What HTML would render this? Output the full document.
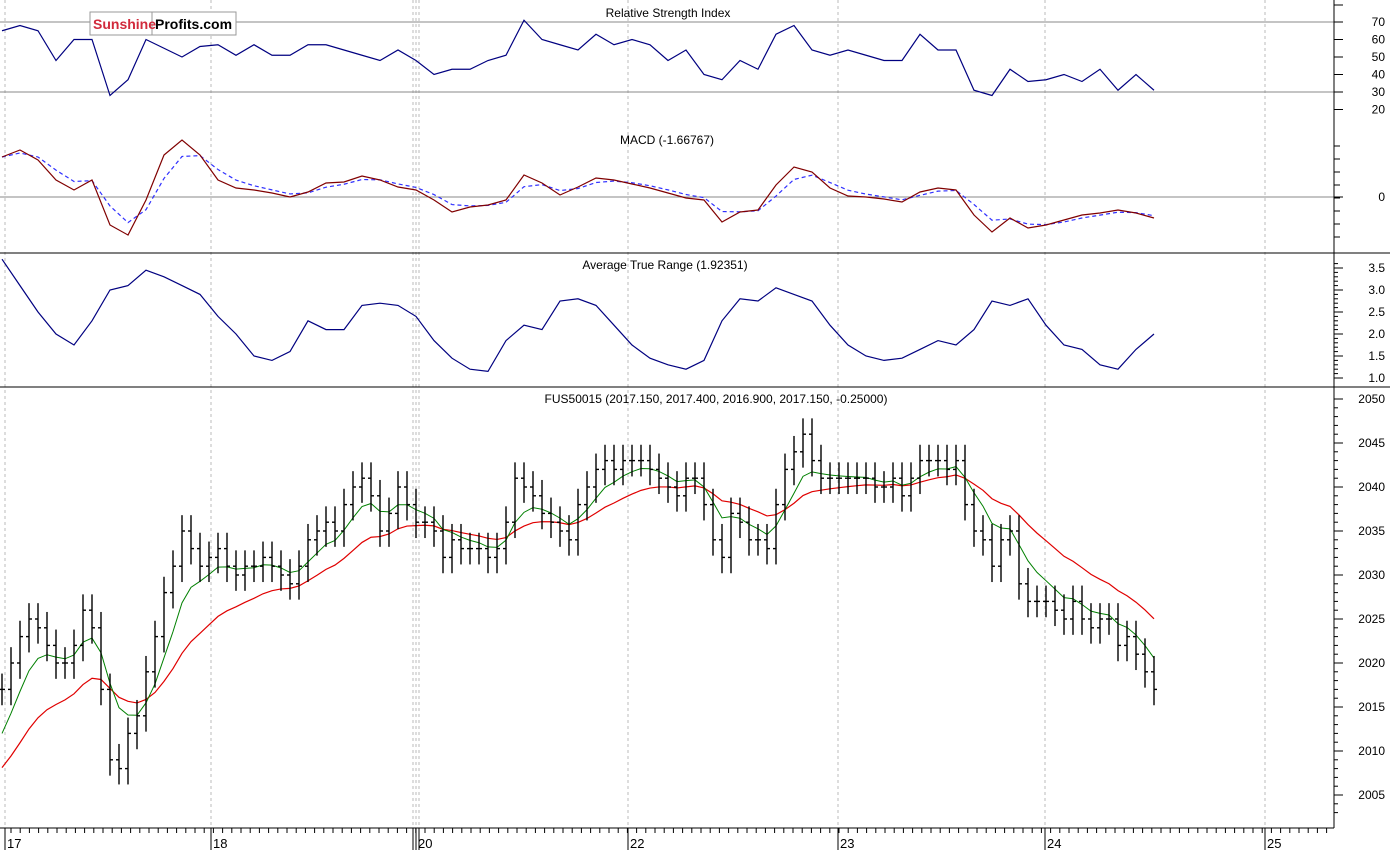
<!DOCTYPE html>
<html><head><meta charset="utf-8"><style>
html,body{margin:0;padding:0;background:#fff;}
svg{display:block;font-family:"Liberation Sans",Arial,sans-serif;}
</style></head><body>
<svg id="chart" width="1390" height="850" viewBox="0 0 1390 850" xmlns="http://www.w3.org/2000/svg">
<rect x="0" y="0" width="1390" height="850" fill="#fff"/>
<g id="grid"></g>
<g id="marks"></g>
<g id="axes"></g>
<g>
<rect x="90" y="12" width="146" height="23" fill="#fff" stroke="#999"/>
<line x1="152" y1="12" x2="152" y2="35" stroke="#999"/>
<text x="93" y="29" font-size="14" font-weight="bold" fill="#d12a3c">Sunshine</text>
<text x="155" y="29" font-size="14" font-weight="bold" fill="#000">Profits.com</text>
</g>
</svg>
<script>
// ---- data ----
const dayLabels = ["17","18","20","22","23","24","25"];
const closes = [2017,2020,2023,2025,2024,2022,2020,2020,2022,2026,2024,2017,2009,2008,2012,2014,2019,2023,2028,2031,2035,2033,2031,2032,2033,2031,2030,2031,2031,2032,2031,2030,2029,2031,2034,2035,2036,2035,2038,2040,2041,2039,2035,2037,2040,2038,2036,2036,2035,2032,2034,2033,2033,2033,2032,2033,2036,2041,2040,2039,2037,2036,2035,2034,2038,2040,2042,2043,2042,2043,2043,2043,2042,2041,2040,2039,2041,2041,2038,2034,2032,2037,2036,2034,2034,2033,2038,2042,2044,2046,2043,2041,2041,2041,2041,2041,2041,2040,2040,2041,2039,2041,2043,2043,2043,2042,2043,2038,2035,2034,2031,2034,2035,2029,2027,2027,2027,2026,2025,2027,2025,2024,2025,2025,2022,2023,2021,2019,2017];
const rsiValues = [65,68,65,48,60,60,28,37,60,55,50,56,57,51,57,51,51,57,57,54,51,48,54,48,40,43,43,48,51,71,60,57,54,63,57,60,57,48,54,40,37,48,43,63,68,54,51,54,51,48,48,63,54,54,31,28,43,36,37,40,36,43,31,40,31];
const macdValues = [4.0,4.7,3.7,1.7,0.7,1.7,-2.8,-3.8,-0.3,4.2,5.7,4.2,1.7,0.9,0.7,0.4,0,0.5,1.4,1.5,2.1,1.7,1.0,0.7,-0.3,-1.5,-1.0,-0.8,-0.3,2.2,1.4,0.2,1.0,1.9,1.7,1.3,0.9,0.4,-0.1,-0.3,-2.5,-1.5,-1.3,1.2,3.0,2.5,0.9,0.1,0,-0.2,-0.5,0.5,0.9,0.7,-1.8,-3.5,-2.1,-3.1,-2.8,-2.3,-1.8,-1.6,-1.3,-1.6,-2.1];
const atrValues = [3.7,3.1,2.5,2.0,1.75,2.3,3.0,3.1,3.45,3.3,3.1,2.9,2.4,2.0,1.5,1.4,1.6,2.3,2.1,2.1,2.65,2.7,2.65,2.4,1.85,1.45,1.2,1.15,1.85,2.2,2.1,2.75,2.8,2.65,2.2,1.75,1.45,1.3,1.2,1.4,2.3,2.8,2.75,3.05,2.9,2.75,2.2,1.75,1.5,1.4,1.45,1.65,1.85,1.75,2.1,2.75,2.65,2.8,2.2,1.75,1.65,1.3,1.2,1.65,2.0];
const priceTicks = [2050,2045,2040,2035,2030,2025,2020,2015,2010,2005];
const rsiTicks = [70,60,50,40,30,20];
const atrTicks = [3.5,3.0,2.5,2.0,1.5,1.0];

// ---- scales ----
const NS='http://www.w3.org/2000/svg';
const barX = i => 2 + i*9;
const indX = i => 2 + i*18;
const priceY = v => 399 + (2050 - v)*8.8;
const rsiY = v => 22 + (70 - v)*1.75;
const macdY = v => 197 - v*10;
const atrY = v => 378 - (v - 1)*44;
const dayX = [5,211,416,628,838,1045,1265];

function mk(tag, attrs, parent){const e=document.createElementNS(NS,tag);for(const k in attrs)e.setAttribute(k,attrs[k]);parent.appendChild(e);return e;}
const grid=document.getElementById('grid'), marks=document.getElementById('marks'), axes=document.getElementById('axes');

[5,211,413,416,419,628,838,1045,1265].forEach(x=>{
  const l=mk('line',{x1:x,y1:0,x2:x,y2:828,stroke:'#bbb','stroke-dasharray':'3,3'},grid);
  
  
});
[[rsiY(70),'rsi-70-line'],[rsiY(30),'rsi-30-line'],[macdY(0),'macd-zero-line']].forEach(([y,n])=>{
  const l=mk('line',{x1:0,y1:y,x2:1334,y2:y,stroke:'#888'},grid);
  
  
});
[253,387].forEach(y=>{
  const l=mk('line',{x1:0,y1:y,x2:1390,y2:y,stroke:'#000'},axes);
  
  
});

function poly(vals, xf, yf, attrs, name){
  const p=mk('polyline',Object.assign({points:vals.map((v,i)=>xf(i)+','+yf(v)).join(' '),fill:'none'},attrs),marks);
  
  
  return p;
}
function ema(vals, span, seed){const a=2/(span+1);let e=seed;return vals.map(v=>(e=e+a*(v-e)));}

poly(rsiValues, indX, rsiY, {stroke:'#000080','stroke-width':1.2}, 'rsi-line');
poly(ema(macdValues,2.5,macdValues[0]), indX, macdY, {stroke:'#3030ff','stroke-dasharray':'4,3','stroke-width':1.2}, 'macd-signal-line');
poly(macdValues, indX, macdY, {stroke:'#800000','stroke-width':1.2}, 'macd-line');
poly(atrValues, indX, atrY, {stroke:'#000080','stroke-width':1.2}, 'atr-line');
poly(ema(closes,17,2007), barX, priceY, {stroke:'#e00000','stroke-width':1.2}, 'slow-moving-average');
poly(ema(closes,6,2010), barX, priceY, {stroke:'#008000','stroke-width':1}, 'fast-moving-average');
closes.forEach((c,i)=>{
  const o = i>0 ? closes[i-1] : c;
  const hi = Math.max(o,c)+1.8, lo = Math.min(o,c)-1.8;
  const x=barX(i);
  const g=mk('g',{stroke:'#000','stroke-width':1.4},marks);
  
  
  mk('line',{x1:x,y1:priceY(hi),x2:x,y2:priceY(lo)},g);
  mk('line',{x1:x-3,y1:priceY(o),x2:x,y2:priceY(o)},g);
  mk('line',{x1:x,y1:priceY(c),x2:x+3,y2:priceY(c)},g);
});

mk('line',{x1:1334,y1:0,x2:1334,y2:828,stroke:'#000'},axes);
mk('line',{x1:0,y1:828,x2:1334,y2:828,stroke:'#000'},axes);
function tick(y, label, name, size){
  mk('line',{x1:1334,y1:y,x2:1343,y2:y,stroke:'#000'},axes);
  const t=mk('text',{x:1385,y:y+4,'font-size':size||12,'text-anchor':'end',fill:'#000'},axes);
  t.textContent=label;
  
  
}
rsiTicks.forEach(v=>tick(rsiY(v),String(v),'rsi-tick-label'));
tick(macdY(0),'0','macd-tick-label');
for(let v=-4;v<=6;v+=1.3){mk('line',{x1:1334,y1:macdY(v),x2:1340,y2:macdY(v),stroke:'#000'},axes);}
atrTicks.forEach(v=>tick(atrY(v),v.toFixed(1),'atr-tick-label'));
for(let v=1;v<=3.7;v+=0.1){mk('line',{x1:1334,y1:atrY(v),x2:1338,y2:atrY(v),stroke:'#000'},axes);}
priceTicks.forEach(v=>tick(priceY(v),String(v),'price-tick-label'));
for(let v=2003;v<=2050;v+=1){mk('line',{x1:1334,y1:priceY(v),x2:1338,y2:priceY(v),stroke:'#000'},axes);}
mk('line',{x1:1334,y1:5,x2:1343,y2:5,stroke:'#000'},axes);
for(let x=11;x<1334;x+=9.2){mk('line',{x1:x,y1:828,x2:x,y2:833,stroke:'#000'},axes);}
dayLabels.forEach((d,i)=>{
  const x=dayX[i];
  mk('line',{x1:x,y1:828,x2:x,y2:850,stroke:'#000'},axes);
  const t=mk('text',{x:x+2,y:848,'font-size':13,fill:'#000'},axes);
  t.textContent=d;
  
  
});
mk('line',{x1:413,y1:828,x2:413,y2:850,stroke:'#000'},axes);
mk('line',{x1:419,y1:828,x2:419,y2:850,stroke:'#000'},axes);
[[668,17,'Relative Strength Index','rsi-title'],[667,144,'MACD (-1.66767)','macd-title'],[665,269,'Average True Range (1.92351)','atr-title'],[716,403,'FUS50015 (2017.150, 2017.400, 2016.900, 2017.150, -0.25000)','price-title']].forEach(([x,y,s,n])=>{
  const t=mk('text',{x:x,y:y,'font-size':12,'text-anchor':'middle',fill:'#000'},axes);
  t.textContent=s;
  
  
});
</script>
</body></html>
